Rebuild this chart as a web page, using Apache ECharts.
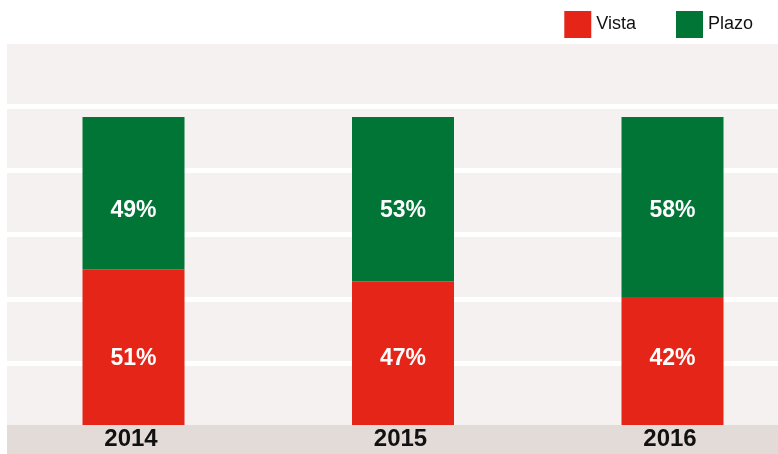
<!DOCTYPE html>
<html lang="es">
<head>
    <meta charset="UTF-8">
    <title>Vista / Plazo</title>
    <script src="https://cdn.jsdelivr.net/npm/echarts@6/dist/echarts.min.js"></script>
</head>
<body style="margin:0">
<div id="main" style="width: 778px;height: 454px"></div>
<script>
    var years = ['2014', '2015', '2016'];   // categorias
    var vista = [51, 47, 42];               // % Vista (rojo)
    var plazo = [49, 53, 58];               // % Plazo (verde)
    var bandTicks = 6;                      // franjas del fondo

    var font = '"Liberation Sans Narrow", "Arial Narrow", "Liberation Sans", sans-serif';
    var rojo = '#e42518', verde = '#007535';

    var myChart = echarts.init(document.getElementById('main'));
    var option = {
        backgroundColor: '#ffffff',
        animation: false,
        legend: {
            data: ['Vista', 'Plazo'],
            icon: 'rect',
            itemWidth: 27,
            itemHeight: 27,
            itemGap: 40,
            right: 20,
            top: 6,
            selectedMode: false,
            textStyle: {color: '#111', fontSize: 18, fontFamily: font}
        },
        grid: [
            // fondo con franjas
            {left: 7, right: 0, top: 41.5, bottom: 26.5, show: true, backgroundColor: '#f5f1f0', borderWidth: 0,
                outerBoundsMode: 'none'},
            // barras
            {left: -1.25, right: -29.25, top: 41.5, bottom: 26.5, outerBoundsMode: 'none'}
        ],
        xAxis: [{
            gridIndex: 0,
            type: 'category',
            data: years,
            offset: 12,
            z: 3,
            axisLine: {onZero: false, lineStyle: {color: '#e3dbd7', width: 29, cap: 'butt'}},
            axisTick: {show: false},
            axisLabel: {show: false}
        }, {
            gridIndex: 1,
            type: 'category',
            data: years,
            offset: 12,
            z: 4,
            axisLine: {show: false, onZero: false},
            axisTick: {show: false},
            axisLabel: {
                margin: 0,
                verticalAlign: 'middle',
                padding: [0, 5, 0, 0],
                color: '#111',
                fontSize: 24,
                fontWeight: 'bold',
                fontFamily: font
            }
        }],
        yAxis: [{
            gridIndex: 0,
            type: 'value',
            min: 0,
            max: bandTicks,
            interval: 1,
            axisLine: {show: false},
            axisTick: {show: false},
            axisLabel: {show: false},
            splitLine: {lineStyle: {color: '#ffffff', width: 5}}
        }, {
            gridIndex: 1,
            type: 'value',
            min: 0,
            max: 124.3,
            show: false,
            splitLine: {show: false}
        }],
        series: [{
            name: 'Vista',
            type: 'bar',
            stack: 'total',
            xAxisIndex: 1,
            yAxisIndex: 1,
            barWidth: 102,
            itemStyle: {color: rojo},
            label: {
                show: true,
                position: 'insideBottom',
                distance: 57,
                formatter: '{c}%',
                color: '#fff',
                fontSize: 23,
                fontWeight: 'bold',
                fontFamily: font
            },
            data: vista
        }, {
            name: 'Plazo',
            type: 'bar',
            stack: 'total',
            xAxisIndex: 1,
            yAxisIndex: 1,
            barWidth: 102,
            itemStyle: {color: verde},
            label: {
                show: true,
                position: 'insideTop',
                distance: 82,
                formatter: '{c}%',
                color: '#fff',
                fontSize: 23,
                fontWeight: 'bold',
                fontFamily: font
            },
            data: plazo
        }]
    };
    myChart.setOption(option);
</script>
</body>
</html>
